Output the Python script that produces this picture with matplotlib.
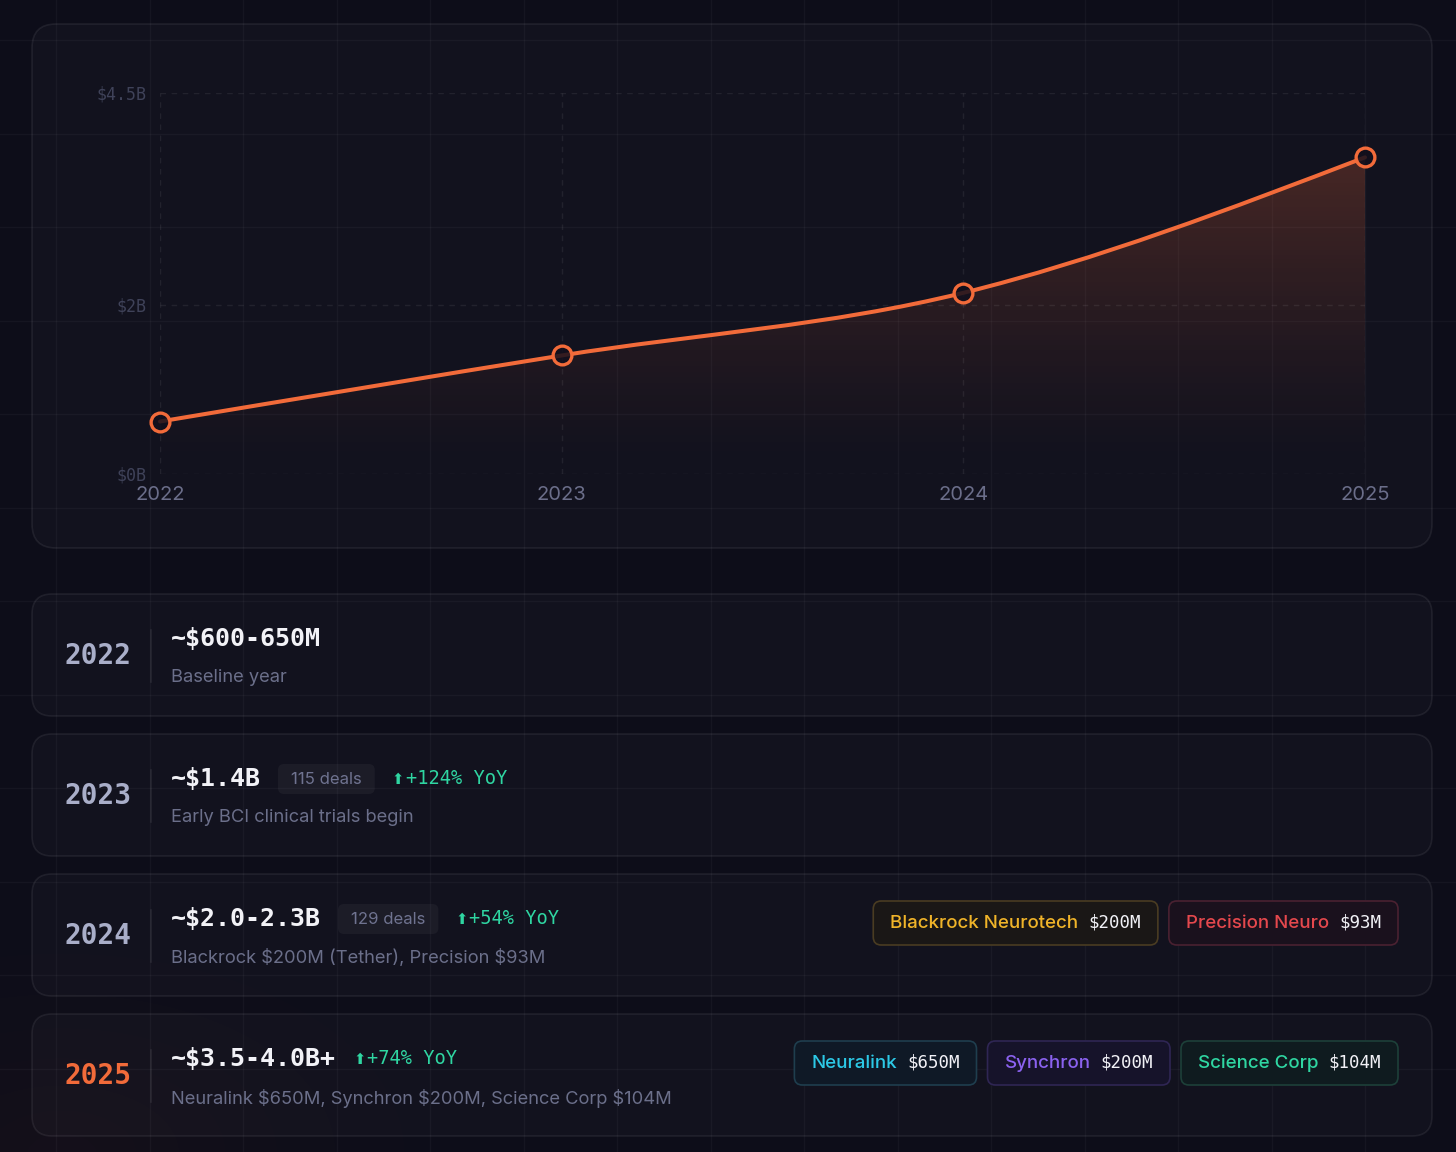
import matplotlib
matplotlib.use('Agg')
import matplotlib.pyplot as plt
import numpy as np
from matplotlib.patches import FancyBboxPatch, PathPatch
from matplotlib.path import Path

W, H = 1456, 1152

# chart data (funding in $B)
years = [2022, 2023, 2024, 2025]
funding_b = [0.62, 1.40, 2.14, 3.74]
y_ticks = [0, 2, 4.5]
y_tick_labels = ['$0B', '$2B', '$4.5B']
x_tick_labels = ['2022', '2023', '2024', '2025']

# cards below the chart
card_years = ['2022', '2023', '2024', '2025']
card_values = ['~$600-650M', '~$1.4B', '~$2.0-2.3B', '~$3.5-4.0B+']
card_deals = [None, '115 deals', '129 deals', None]
card_yoy = [None, '+124% YoY', '+54% YoY', '+74% YoY']
card_notes = ['Baseline year',
              'Early BCI clinical trials begin',
              'Blackrock $200M (Tether), Precision $93M',
              'Neuralink $650M, Synchron $200M, Science Corp $104M']
tag_names = [[], [], ['Blackrock Neurotech', 'Precision Neuro'],
             ['Neuralink', 'Synchron', 'Science Corp']]
tag_amounts = [[], [], ['$200M', '$93M'], ['$650M', '$200M', '$104M']]
tag_kinds = [[], [], ['amber', 'red'], ['cyan', 'purple', 'green']]

TAG_STYLE = {
    'amber': ('#f0b429', '#4a3c22', '#1a1716'),
    'red': ('#e5484d', '#4a2131', '#1a111d'),
    'cyan': ('#2cc9e6', '#1f3e4e', '#0f1926'),
    'purple': ('#8b62f0', '#2f2654', '#16132a'),
    'green': ('#2fd6a2', '#1d4039', '#0f1b1f'),
}

BG = '#0d0d19'
ORANGE = '#f26b3a'
GREEN = '#2fd6a2'
SANS = ['Inter', 'DejaVu Sans']
MONO = ['DejaVu Sans Mono']

plt.rcParams['font.family'] = SANS
plt.rcParams['text.parse_math'] = False

fig = plt.figure(figsize=(W / 100, H / 100), dpi=100, facecolor=BG)
ax = fig.add_axes([0, 0, 1, 1])
ax.set_xlim(0, W)
ax.set_ylim(H, 0)
ax.axis('off')
ax.set_facecolor(BG)

# faint warm glow in the lower left
gy, gx = np.mgrid[0:H:4, 0:W:4]
d = np.sqrt(((gx - 60) / 650.0) ** 2 + ((gy - 1152) / 380.0) ** 2)
glow = np.zeros(gx.shape + (4,))
glow[..., 0], glow[..., 1], glow[..., 2] = 0.95, 0.42, 0.23
glow[..., 3] = np.clip(1 - d, 0, 1) ** 2 * 0.035
ax.imshow(glow, extent=[0, W, H, 0], aspect='auto', zorder=0, interpolation='bilinear')

# background grid
for gxp in np.arange(56, W, 93.5):
    ax.plot([gxp, gxp], [0, H], color='#ffffff', alpha=0.035, lw=1, zorder=1)
for gyp in np.arange(40, H, 93.5):
    ax.plot([0, W], [gyp, gyp], color='#ffffff', alpha=0.035, lw=1, zorder=1)


def panel(x, y, w, h, r, fc=(1, 1, 1, 0.022), ec=(1, 1, 1, 0.07)):
    p = FancyBboxPatch((x, y), w, h, boxstyle='round,pad=0,rounding_size=%g' % r,
                       facecolor=fc, edgecolor=ec, lw=1.2, zorder=2)
    ax.add_patch(p)
    return p


panel(32, 24, 1400, 524, 24)

# ---- chart ----
px0, px1, py_top, py_bot = 160, 1365, 93, 474
cax = fig.add_axes([px0 / W, 1 - py_bot / H, (px1 - px0) / W, (py_bot - py_top) / H])
cax.set_facecolor('none')
cax.set_xlim(years[0], years[-1])
cax.set_ylim(0, 4.5)
for s in cax.spines.values():
    s.set_visible(False)
cax.set_xticks(years)
cax.set_xticklabels(x_tick_labels)
cax.set_yticks(y_ticks)
cax.set_yticklabels(y_tick_labels)
cax.tick_params(axis='both', length=0)
cax.tick_params(axis='y', pad=9.5, labelcolor='#3f4259', labelsize=12)
cax.tick_params(axis='x', pad=9, labelcolor='#6b6e8a', labelsize=14.5)
for t in cax.get_yticklabels():
    t.set_fontfamily(MONO)
cax.grid(True, color='#ffffff', alpha=0.07, lw=1, linestyle=(0, (4, 4)))

# monotone cubic (d3 curveMonotoneX style) tangents
xs = np.array(years, dtype=float)
ys = np.array(funding_b, dtype=float)
h = np.diff(xs)
sl = np.diff(ys) / h
m = np.zeros(len(xs))
for i in range(1, len(xs) - 1):
    p = (sl[i - 1] * h[i] + sl[i] * h[i - 1]) / (h[i - 1] + h[i])
    m[i] = (np.sign(sl[i - 1]) + np.sign(sl[i])) * min(abs(sl[i - 1]), abs(sl[i]), 0.5 * abs(p))
m[0] = (3 * sl[0] - m[1]) / 2
m[-1] = (3 * sl[-1] - m[-2]) / 2

verts = [(xs[0], ys[0])]
codes = [Path.MOVETO]
for i in range(len(xs) - 1):
    dx = h[i] / 3
    verts += [(xs[i] + dx, ys[i] + m[i] * dx), (xs[i + 1] - dx, ys[i + 1] - m[i + 1] * dx), (xs[i + 1], ys[i + 1])]
    codes += [Path.CURVE4] * 3
curve = Path(verts, codes)
area = Path(verts + [(xs[-1], 0), (xs[0], 0), (xs[0], ys[0])],
            codes + [Path.LINETO, Path.LINETO, Path.CLOSEPOLY])

clip = PathPatch(area, facecolor='none', edgecolor='none', transform=cax.transData)
cax.add_patch(clip)
grad = np.zeros((256, 1, 4))
grad[..., 0], grad[..., 1], grad[..., 2] = 0.95, 0.42, 0.23
grad[:, 0, 3] = np.linspace(0.0, 0.24, 256) ** 1.3 / 0.24 ** 0.3
img = cax.imshow(grad, extent=[xs[0], xs[-1], 0, ys.max()], origin='lower',
                 aspect='auto', zorder=1, interpolation='bilinear')
img.set_clip_path(clip)

cax.add_patch(PathPatch(curve, facecolor='none', edgecolor=ORANGE, lw=2.9,
                        capstyle='round', zorder=3, clip_on=False))
cax.plot(years, funding_b, 'o', ms=13.5, mfc=(0.07, 0.06, 0.11, 0.85), mec=ORANGE,
         mew=2.4, zorder=4, clip_on=False)
cax.set_xlim(years[0], years[-1])
cax.set_ylim(0, 4.5)

# ---- cards ----
fig.canvas.draw()
rend = fig.canvas.get_renderer()


def width(t):
    return t.get_window_extent(rend).width


card_tops = [594, 734, 874, 1014]
for i, top in enumerate(card_tops):
    panel(32, top, 1400, 122, 20)
    cy = top + 62
    ax.text(64, cy, card_years[i], ha='left', va='center', fontsize=20, fontweight='bold',
            family=MONO, color=ORANGE if i == 3 else '#a9aec9', zorder=5)
    ax.plot([151, 151], [cy - 26, cy + 26], color='#ffffff', alpha=0.08, lw=1.2, zorder=5)
    vy = top + 45
    tv = ax.text(171, vy, card_values[i], ha='left', va='center', fontsize=18,
                 fontweight='bold', family=MONO, color='#f2f2f7', zorder=5)
    x = 171 + width(tv) + 17
    if card_deals[i]:
        tb = ax.text(0, vy, card_deals[i], ha='left', va='center', fontsize=12,
                     color='#6f7390', zorder=6)
        bw = width(tb) + 26
        ax.add_patch(FancyBboxPatch((x, vy - 15), bw, 30, boxstyle='round,pad=0,rounding_size=6',
                                    facecolor=(1, 1, 1, 0.045), edgecolor='none', zorder=5))
        tb.set_x(x + 13)
        tb.set_y(vy + 1)
        x += bw + 17
    if card_yoy[i]:
        ax.text(x, vy + 1, '\u2b06', ha='left', va='center', fontsize=10.5, family=['DejaVu Sans'],
                color=GREEN, zorder=5)
        ax.text(x + 14, vy, card_yoy[i], ha='left', va='center', fontsize=13.5,
                family=MONO, color=GREEN, zorder=5)
    ax.text(171, top + 84, card_notes[i], ha='left', va='center', fontsize=13.2,
            color='#6b6f8a', zorder=5)

    # company tags, right aligned
    right = 1398
    ty = top + 49
    for name, amt, kind in reversed(list(zip(tag_names[i], tag_amounts[i], tag_kinds[i]))):
        tc, ec, fc = TAG_STYLE[kind]
        ta = ax.text(right - 17, ty, amt, ha='right', va='center', fontsize=12.5,
                     family=MONO, color='#f2f2f7', zorder=6)
        wa = width(ta)
        tn = ax.text(right - 17 - wa - 10, ty, name, ha='right', va='center',
                     fontsize=13.5, fontweight='medium', color=tc, zorder=6)
        wn = width(tn)
        bw = 17 + wn + 10 + wa + 17
        ax.add_patch(FancyBboxPatch((right - bw, ty - 22), bw, 44,
                                    boxstyle='round,pad=0,rounding_size=8',
                                    facecolor=fc, edgecolor=ec, lw=1.2, zorder=5))
        right -= bw + 11

fig.savefig('out.png', dpi=100, facecolor=BG)
